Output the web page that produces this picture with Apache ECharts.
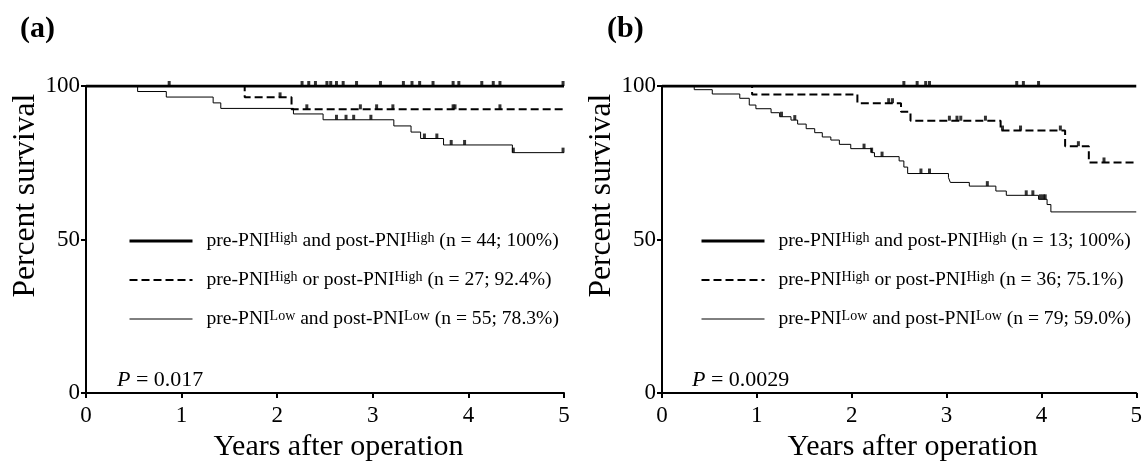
<!DOCTYPE html>
<html><head><meta charset="utf-8">
<script src="https://cdn.jsdelivr.net/npm/echarts@6/dist/echarts.min.js"></script>
<style>html,body{margin:0;padding:0;background:#fff}#c{width:1145px;height:467px}</style>
</head><body><div id="c"></div>
<script>
// ---------- DATA ----------
const xTicks = [0, 1, 2, 3, 4, 5];
const yTicks = [0, 50, 100];

// Panel (a)
const aHighT = [0, 5];
const aHighS = [100, 100];
const aHighC = [0.87, 2.26, 2.33, 2.40, 2.52, 2.56, 2.62, 2.69, 2.83, 3.08, 3.32, 3.41, 3.49, 3.63, 3.84, 3.90, 4.14, 4.26, 4.33, 4.99];
const aMidT = [0, 1.66, 2.15, 5];
const aMidS = [100, 96.3, 92.4, 92.4];
const aMidC = [2.03, 2.31, 2.87, 3.04, 3.21, 3.84, 3.86, 4.33];
const aLowT = [0, 0.54, 0.84, 1.33, 1.41, 2.17, 2.48, 3.22, 3.40, 3.50, 3.74, 4.46, 5];
const aLowS = [100, 98.2, 96.4, 94.5, 92.7, 90.9, 89.0, 87.0, 85.0, 82.9, 80.8, 78.3, 78.3];
const aLowC = [2.62, 2.72, 2.80, 2.98, 3.54, 3.67, 3.82, 3.96, 4.47, 4.99];

// Panel (b)
const bHighT = [0, 5];
const bHighS = [100, 100];
const bHighC = [2.55, 2.69, 2.78, 2.82, 3.74, 3.81, 3.97];
const bMidT = [0, 0.95, 2.06, 2.52, 2.62, 3.57, 4.25, 4.50, 5];
const bMidS = [100, 97.2, 94.4, 91.6, 88.7, 85.5, 80.4, 75.1, 75.1];
const bMidC = [2.39, 2.43, 3.03, 3.11, 3.15, 3.41, 3.59, 3.78, 4.20, 4.39, 4.66];
const bLowT = [0, 0.34, 0.53, 0.82, 0.92, 0.99, 1.15, 1.24, 1.36, 1.43, 1.52, 1.61, 1.69, 1.78, 1.87, 1.99, 2.21, 2.24, 2.50, 2.55, 2.59, 3.02, 3.04, 3.24, 3.52, 3.63, 3.97, 4.06, 4.10, 5];
const bLowS = [100, 98.8, 97.4, 96.0, 93.8, 92.6, 91.3, 90.0, 88.9, 87.6, 86.1, 84.8, 83.4, 82.4, 81.0, 79.6, 78.3, 77.0, 75.6, 73.6, 71.5, 70.2, 68.6, 67.4, 65.8, 64.4, 63.1, 61.4, 59.0, 59.0];
const bLowC = [1.26, 1.40, 2.13, 2.21, 2.32, 2.73, 2.82, 3.43, 3.84, 3.91, 3.99, 4.02, 4.04];

// Legend labels: [text, superscript, text, superscript, text]
const legendA = [
  ['pre-PNI', 'High', ' and post-PNI', 'High', ' (n = 44; 100%)'],
  ['pre-PNI', 'High', ' or post-PNI', 'High', ' (n = 27; 92.4%)'],
  ['pre-PNI', 'Low', ' and post-PNI', 'Low', ' (n = 55; 78.3%)']
];
const legendB = [
  ['pre-PNI', 'High', ' and post-PNI', 'High', ' (n = 13; 100%)'],
  ['pre-PNI', 'High', ' or post-PNI', 'High', ' (n = 36; 75.1%)'],
  ['pre-PNI', 'Low', ' and post-PNI', 'Low', ' (n = 79; 59.0%)']
];
const pValues = ['0.017', '0.0029'];
const panelLabels = ['(a)', '(b)'];
const xName = 'Years after operation';
const yName = 'Percent survival';

// ---------- BUILD ----------
const FF = '"Liberation Serif", "Times New Roman", serif';
function survAt(T, S, t) { let v = S[0]; for (let i = 0; i < T.length; i++) { if (T[i] <= t) v = S[i]; } return v; }
const styles = [
  { width: 3, type: 'solid' },
  { width: 2, type: [8, 4] },
  { width: 1, type: 'solid' }
];
function km(name, gi, T, S, st) {
  return { type: 'line', name: name, xAxisIndex: gi, yAxisIndex: gi, step: 'end', symbol: 'none',
    data: T.map((t, i) => [t, S[i]]), lineStyle: { color: '#000', width: st.width, type: st.type },
    itemStyle: { color: '#000' }, animation: false, silent: true, z: 3 };
}
function cens(gi, T, S, C) {
  return { type: 'scatter', xAxisIndex: gi, yAxisIndex: gi, symbol: 'rect', symbolSize: [3, 5], symbolOffset: [0, -2.5],
    data: C.map(t => [t, survAt(T, S, t)]), itemStyle: { color: '#000' }, animation: false, silent: true, z: 4 };
}
const panels = [
  [[aHighT, aHighS, aHighC], [aMidT, aMidS, aMidC], [aLowT, aLowS, aLowC]],
  [[bHighT, bHighS, bHighC], [bMidT, bMidS, bMidC], [bLowT, bLowS, bLowC]]
];
const series = [];
panels.forEach((p, gi) => {
  p.forEach((c, k) => {
    series.push(km((gi ? 'b' : 'a') + k, gi, c[0], c[1], styles[k]));
    series.push(cens(gi, c[0], c[1], c[2]));
  });
});
const labelMap = {};
legendA.forEach((l, k) => labelMap['a' + k] = l);
legendB.forEach((l, k) => labelMap['b' + k] = l);
function fmt(name) {
  const l = labelMap[name];
  return '{g| }{n|' + l[0] + '}{s|' + l[1] + '}{n|' + l[2] + '}{s|' + l[3] + '}{n|' + l[4] + '}';
}
const rich = {
  g: { width: 9 },
  n: { fontFamily: FF, fontSize: 19.6, color: '#000', lineHeight: 20 },
  s: { fontFamily: FF, fontSize: 14, color: '#000', verticalAlign: 'top', lineHeight: 13 }
};
const transparent = 'rgba(0,0,0,0)';
function legend(left, prefix) {
  return { left: left, top: 231, padding: 0, orient: 'vertical', itemWidth: 63, itemHeight: 21, itemGap: 19,
    data: styles.map((st, k) => ({ name: prefix + k, lineStyle: { width: st.width, type: st.type, color: '#000' },
      itemStyle: { color: transparent, borderColor: transparent, borderWidth: 0, opacity: 0 } })),
    itemStyle: { color: transparent, borderColor: transparent, borderWidth: 0 },
    formatter: fmt, selectedMode: false, textStyle: { rich: rich, fontFamily: FF, fontSize: 20, color: '#000' } };
}
const axisCommon = {
  axisLine: { show: true, onZero: false, lineStyle: { color: '#000', width: 2 } },
  axisTick: { show: true, length: 5, lineStyle: { color: '#000', width: 2 } },
  splitLine: { show: false }
};
function xAx(gi) {
  return Object.assign({ gridIndex: gi, type: 'value', min: xTicks[0], max: xTicks[xTicks.length - 1], interval: 1,
    name: xName, nameLocation: 'middle', nameGap: 31,
    nameTextStyle: { fontFamily: FF, fontSize: 30, color: '#000', padding: [0, 0, 0, 27] },
    axisLabel: { margin: 11, fontFamily: FF, fontSize: 23, color: '#000' } }, axisCommon);
}
function yAx(gi) {
  return Object.assign({ gridIndex: gi, type: 'value', min: yTicks[0], max: yTicks[yTicks.length - 1], interval: 50,
    name: yName, nameLocation: 'middle', nameGap: 41,
    nameTextStyle: { fontFamily: FF, fontSize: 31.5, color: '#000', padding: [0, 0, 0, 88] },
    axisLabel: { margin: 6, fontFamily: FF, fontSize: 23, color: '#000' } }, axisCommon);
}
const pRich = { i: { fontFamily: FF, fontSize: 22, fontStyle: 'italic', fill: '#000' }, n: { fontFamily: FF, fontSize: 22, fill: '#000' } };
const option = {
  backgroundColor: '#fff',
  animation: false,
  grid: [
    { left: 86, top: 86, width: 478, height: 321 },
    { left: 662, top: 86, width: 476, height: 321 }
  ],
  xAxis: [xAx(0), xAx(1)],
  yAxis: [yAx(0), yAx(1)],
  legend: [legend(128, 'a'), legend(700, 'b')],
  series: series,
  graphic: [
    { type: 'text', left: 20, top: 14, style: { text: panelLabels[0], font: 'bold 30px ' + FF, fill: '#000' } },
    { type: 'text', left: 607, top: 14, style: { text: panelLabels[1], font: 'bold 30px ' + FF, fill: '#000' } },
    { type: 'text', left: 117, top: 369, style: { text: '{i|P}{n| = ' + pValues[0] + '}', rich: pRich } },
    { type: 'text', left: 692, top: 369, style: { text: '{i|P}{n| = ' + pValues[1] + '}', rich: pRich } }
  ]
};
const chart = echarts.init(document.getElementById('c'), null, { renderer: 'canvas' });
chart.setOption(option);
</script>
</body></html>
